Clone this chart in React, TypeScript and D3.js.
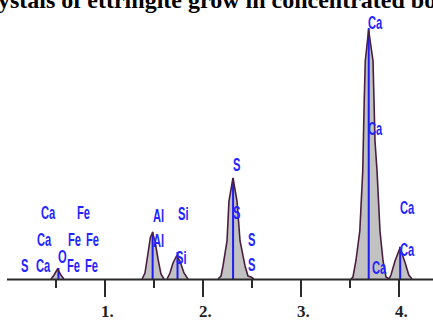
import React, { useEffect, useRef } from 'react';
import * as d3 from 'd3';

// spectrum peaks, [energy keV, counts]
const oPeak = [[0.45, 0], [0.48, 40], [0.515, 100], [0.55, 40], [0.58, 0]];
const alPeak = [[1.378, 0], [1.408, 60], [1.439, 260], [1.464, 420], [1.485, 460], [1.51, 380], [1.541, 200], [1.571, 50], [1.602, 0]];
const siPeak = [[1.633, 0], [1.663, 60], [1.694, 160], [1.73, 230], [1.765, 180], [1.806, 60], [1.847, 0]];
const sPeak = [[2.153, 0], [2.184, 30], [2.204, 130], [2.245, 380], [2.265, 780], [2.306, 1010], [2.347, 780], [2.378, 380], [2.429, 130], [2.459, 30], [2.49, 20], [2.52, 0]];
const caPeak = [[3.51, 0], [3.53, 20], [3.56, 180], [3.60, 480], [3.63, 1080], [3.645, 1780], [3.656, 2180], [3.69, 2490], [3.735, 2180], [3.745, 1780], [3.755, 1380], [3.776, 1080], [3.806, 480], [3.837, 180], [3.867, 20], [3.898, 0], [3.918, 40], [3.959, 180], [4.01, 310], [4.06, 170], [4.10, 40], [4.133, 0]];

// element line markers [energy, height]
const markers = [[0.525, 110], [1.486, 470], [1.74, 270], [2.307, 1010], [3.691, 2510], [4.012, 320]];

// labels [text, energy, height]
const labels = [
  ['S', 0.143, 70], ['Ca', 0.296, 70], ['Ca', 0.306, 330], ['Ca', 0.347, 600],
  ['O', 0.52, 160], ['Fe', 0.612, 70], ['Fe', 0.796, 70], ['Fe', 0.622, 330],
  ['Fe', 0.806, 330], ['Fe', 0.714, 600], ['Al', 1.49, 570], ['Al', 1.49, 320],
  ['Si', 1.745, 590], ['Si', 1.724, 150], ['S', 2.306, 1080], ['S', 2.306, 600],
  ['S', 2.459, 330], ['S', 2.459, 80], ['Ca', 3.684, 2500], ['Ca', 3.684, 1440],
  ['Ca', 3.724, 50], ['Ca', 4.01, 650], ['Ca', 4.01, 230]
];

const majorTicks = [1, 2, 3, 4];
const minorTicks = [0.5, 1.5, 2.5, 3.5];
const title = 'ystals of ettringite grow in concentrated bo';

export default function App() {
  const ref = useRef(null);

  useEffect(() => {
    const svg = d3.select(ref.current);
    svg.selectAll('*').remove();

    const x = d3.scaleLinear().domain([0, 4.35]).range([7, 433.3]);
    const y = d3.scaleLinear().domain([0, 2500]).range([279, 29]);

    // title (cut off at the top like the source image)
    svg.append('text')
      .attr('x', -2)
      .attr('y', 8)
      .style('font-family', '"Liberation Serif", serif')
      .style('font-weight', 'bold')
      .style('font-size', '24px')
      .style('fill', '#000')
      .text(title);

    const area = d3.area().x(d => x(d[0])).y0(y(0)).y1(d => y(d[1]));
    const line = d3.line().x(d => x(d[0])).y(d => y(d[1]));

    [oPeak, alPeak, siPeak, sPeak, caPeak].forEach(p => {
      svg.append('path').attr('d', area(p)).style('fill', '#c2c2c2');
    });

    // marker lines
    svg.selectAll('.mk')
      .data(markers)
      .enter().append('line')
      .attr('x1', d => x(d[0])).attr('x2', d => x(d[0]))
      .attr('y1', y(0)).attr('y2', d => y(d[1]))
      .style('stroke', '#1c1cf0')
      .style('stroke-width', 2);

    [oPeak, alPeak, siPeak, sPeak, caPeak].forEach(p => {
      svg.append('path').attr('d', line(p))
        .style('fill', 'none')
        .style('stroke', '#4a1e40')
        .style('stroke-width', 1.6);
    });

    // axis
    svg.append('line')
      .attr('x1', x(0)).attr('x2', 433)
      .attr('y1', 279.5).attr('y2', 279.5)
      .style('stroke', '#2a2a2a').style('stroke-width', 2);

    svg.selectAll('.maj')
      .data(majorTicks)
      .enter().append('line')
      .attr('x1', d => x(d)).attr('x2', d => x(d))
      .attr('y1', 279).attr('y2', 297)
      .style('stroke', '#2a2a2a').style('stroke-width', 2);

    svg.selectAll('.min')
      .data(minorTicks)
      .enter().append('line')
      .attr('x1', d => x(d)).attr('x2', d => x(d))
      .attr('y1', 279).attr('y2', 288)
      .style('stroke', '#2a2a2a').style('stroke-width', 2);

    svg.selectAll('.tl')
      .data(majorTicks)
      .enter().append('text')
      .attr('x', d => x(d) - 4)
      .attr('y', 317)
      .style('font-family', '"Liberation Serif", serif')
      .style('font-weight', 'bold')
      .style('font-size', '17px')
      .style('fill', '#222')
      .text(d => d + '.');

    // element labels
    svg.selectAll('.lb')
      .data(labels)
      .enter().append('text')
      .attr('transform', d => 'translate(' + x(d[1]) + ',' + y(d[2]) + ') scale(0.62,1)')
      .style('font-family', '"Liberation Sans", sans-serif')
      .style('font-weight', 'bold')
      .style('font-size', '18px')
      .style('fill', '#2424ff')
      .text(d => d[0]);
  }, []);

  return (
    <svg ref={ref} width={433} height={320}
      style={{ position: 'absolute', left: 0, top: 0, background: '#fff', overflow: 'hidden' }} />
  );
}
